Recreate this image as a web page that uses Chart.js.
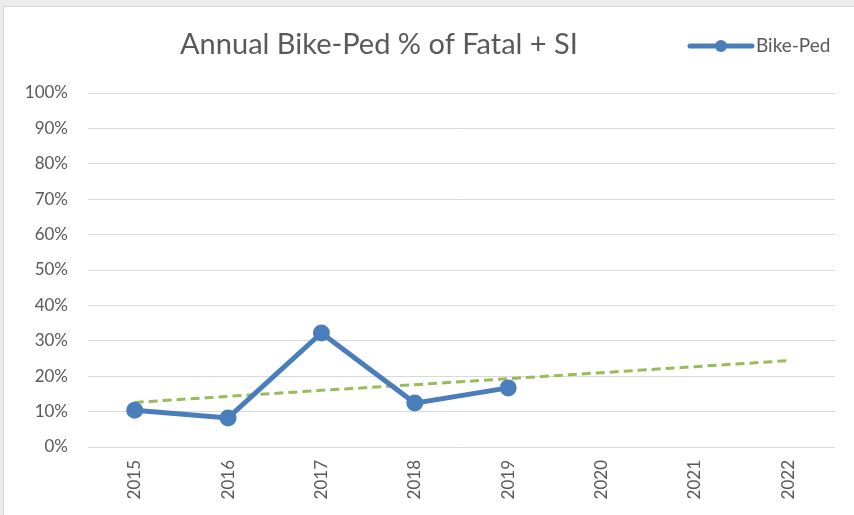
<!DOCTYPE html>
<html>
<head>
<meta charset="utf-8">
<script src="https://cdn.jsdelivr.net/npm/chart.js@4"></script>
<style>
  html, body { margin: 0; padding: 0; background: #ececec; }
  #frame {
    position: absolute; left: 3px; top: 6px; width: 860px; height: 520px;
    background: #fff; border: 1px solid #d4d4d4;
  }
  #wrap { position: absolute; left: -4px; top: -7px; width: 854px; height: 515px; }
</style>
</head>
<body>
<div id="frame"><div id="wrap"><canvas id="chart" width="854" height="515"></canvas></div></div>
<script>
const years = ['2015', '2016', '2017', '2018', '2019', '2020', '2021', '2022'];
const bikePed = [10.4, 8.2, 32.2, 12.4, 16.7, null, null, null];
const trend = [12.6, 14.3, 16.0, 17.6, 19.3, 21.0, 22.7, 24.4];
const yTicks = [0, 10, 20, 30, 40, 50, 60, 70, 80, 90, 100];

const titleText = 'Annual Bike-Ped % of Fatal + SI';
const legendLabel = 'Bike-Ped';

const textColor = '#595959';
const lineBlue = '#4a7ebb';
const trendGreen = '#9bbb59';
const fontFamily = "Lato, 'Open Sans', sans-serif";

// title + legend drawn in the top strip, like the Excel chart
const headerPlugin = {
  id: 'header',
  afterDraw(chart) {
    const ctx = chart.ctx;
    ctx.save();
    ctx.fillStyle = textColor;
    ctx.textBaseline = 'middle';
    ctx.font = '29px ' + fontFamily;
    ctx.textAlign = 'center';
    ctx.fillText(titleText, 379, 45);

    ctx.strokeStyle = lineBlue;
    ctx.lineWidth = 5;
    ctx.lineCap = 'round';
    ctx.beginPath();
    ctx.moveTo(690, 46);
    ctx.lineTo(752, 46);
    ctx.stroke();
    ctx.fillStyle = lineBlue;
    ctx.beginPath();
    ctx.arc(721, 46, 6, 0, Math.PI * 2);
    ctx.fill();

    ctx.fillStyle = textColor;
    ctx.font = '19px ' + fontFamily;
    ctx.textAlign = 'left';
    ctx.fillText(legendLabel, 756, 46);
    ctx.restore();
  }
};

new Chart(document.getElementById('chart').getContext('2d'), {
  type: 'line',
  data: {
    labels: years,
    datasets: [
      {
        label: legendLabel,
        data: bikePed,
        borderColor: lineBlue,
        backgroundColor: lineBlue,
        borderWidth: 5,
        pointRadius: 6,
        pointHoverRadius: 6,
        tension: 0,
        spanGaps: false
      },
      {
        label: 'Trend',
        data: trend,
        borderColor: trendGreen,
        borderWidth: 3,
        borderDash: [9, 5],
        pointRadius: 0,
        tension: 0
      }
    ]
  },
  options: {
    responsive: false,
    animation: false,
    events: [],
    layout: { padding: { top: 93, right: 19, left: 0, bottom: 0 } },
    plugins: {
      legend: { display: false },
      title: { display: false },
      tooltip: { enabled: false }
    },
    scales: {
      x: {
        offset: true,
        grid: { display: false, drawTicks: false },
        border: { display: false },
        ticks: {
          color: textColor,
          font: { family: fontFamily, size: 17 },
          minRotation: 90,
          maxRotation: 90,
          padding: 13
        },
        afterFit(scale) { scale.height = 68; }
      },
      y: {
        min: 0,
        max: 100,
        grid: { color: '#d9d9d9', lineWidth: 1, drawTicks: false },
        border: { display: false },
        afterBuildTicks(scale) { scale.ticks = yTicks.map(v => ({ value: v })); },
        ticks: {
          color: textColor,
          font: { family: fontFamily, size: 17 },
          padding: 20,
          callback: v => v + '%'
        },
        afterFit(scale) { scale.width = 88; }
      }
    }
  },
  plugins: [headerPlugin]
});
</script>
</body>
</html>
